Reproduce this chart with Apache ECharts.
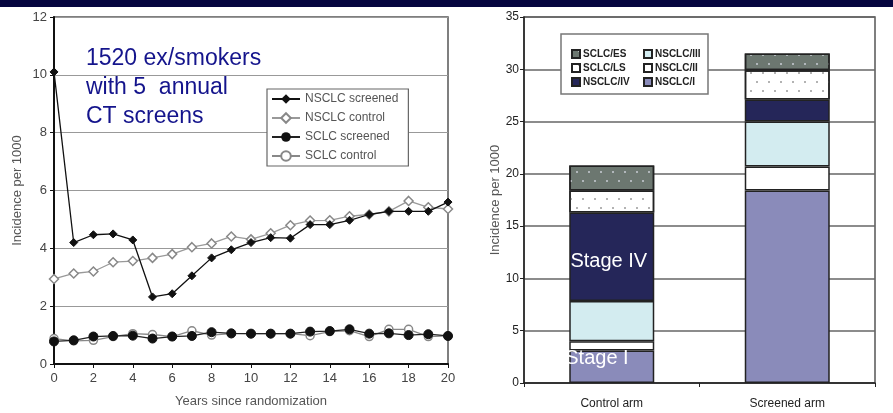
<!DOCTYPE html>
<html><head><meta charset="utf-8">
<script src="https://cdn.jsdelivr.net/npm/echarts@6/dist/echarts.min.js"></script>
<style>html,body{margin:0;padding:0;background:#fff}#c{width:893px;height:413px}</style>
</head><body><div id="c"></div>
<script>
// ---- Left chart data ----
const years = [0,1,2,3,4,5,6,7,8,9,10,11,12,13,14,15,16,17,18,19,20];
const nsclcScreened = [10.1,4.2,4.47,4.5,4.29,2.32,2.43,3.05,3.67,3.95,4.2,4.37,4.35,4.82,4.82,4.97,5.17,5.28,5.28,5.28,5.6];
const nsclcControl  = [2.94,3.13,3.2,3.52,3.56,3.67,3.8,4.04,4.17,4.41,4.31,4.52,4.8,4.96,4.97,5.11,5.17,5.28,5.64,5.42,5.36];
const sclcScreened  = [0.78,0.82,0.95,0.97,0.98,0.88,0.95,0.97,1.1,1.06,1.05,1.05,1.05,1.12,1.14,1.2,1.05,1.06,1.0,1.03,0.97];
const sclcControl   = [0.88,0.8,0.82,0.95,1.05,1.02,0.95,1.15,1.0,1.05,1.05,1.05,1.05,0.98,1.12,1.15,0.95,1.2,1.2,0.95,0.97];
const lineNames = ['NSCLC screened','NSCLC control','SCLC screened','SCLC control'];
const annotation = ['1520 ex/smokers','with 5  annual','CT screens'];

// ---- Right chart data ----
const arms = ['Control arm','Screened arm'];
const nsclcI   = [3.1, 18.4];
const nsclcII  = [0.9, 2.3];
const nsclcIII = [3.85, 4.3];
const nsclcIV  = [8.45, 2.1];
const sclcLS   = [2.1, 2.8];
const sclcES   = [2.4, 1.6];
const stageLabels = {IV: 'Stage IV', I: 'Stage I'};

const chart = echarts.init(document.getElementById('c'), null, {renderer:'canvas'});
const pair = arr => years.map((y,i)=>[y,arr[i]]);
const arial = "'Liberation Sans',Arial,sans-serif";

const dots = (c) => ({symbol:'circle', symbolSize:1, color:c, dashArrayX:[[2,10],[0,6,2,4]], dashArrayY:[2,7]});
const barBase = {type:'bar', stack:'s', xAxisIndex:1, yAxisIndex:1, barWidth:85};
const bStyle = (c, extra) => Object.assign({color:c, borderColor:'#222', borderWidth:1.5}, extra||{});
const legText = {color:'#222', fontSize:10, fontWeight:'bold', fontFamily:arial, lineHeight:12, padding:[0,0,0,-2]};

const option = {
  backgroundColor:'#fff',
  animation:false,
  graphic:[
    {type:'rect', shape:{x:0,y:0,width:893,height:7}, style:{fill:'#06063f'}, z:100},
    {type:'rect', shape:{x:561,y:34,width:147,height:60}, style:{fill:'#fff', stroke:'#777', lineWidth:1.5}, z:50},
    {type:'text', left:86, top:44, z:60, style:{text:annotation.join('\n'), fill:'#14148c', font:'23px '+arial, lineHeight:29}}
  ],
  grid:[
    {left:54, top:17, width:394, height:355, show:true, borderColor:'#555', borderWidth:1.5, backgroundColor:'transparent'},
    {left:524, top:17, width:351, height:366, show:true, borderColor:'#555', borderWidth:1.5, backgroundColor:'transparent'}
  ],
  xAxis:[
    {gridIndex:0, type:'value', min:0, max:20, interval:2,
     axisLine:{show:true, onZero:false, lineStyle:{color:'#111', width:2}},
     axisTick:{show:true, length:4, lineStyle:{color:'#111'}},
     axisLabel:{color:'#444', fontSize:13, fontFamily:arial, margin:8},
     splitLine:{show:false},
     name:'Years since randomization', nameLocation:'middle', nameGap:31,
     nameTextStyle:{color:'#555', fontSize:13, fontFamily:arial}},
    {gridIndex:1, type:'category', data:arms,
     axisLine:{show:true, lineStyle:{color:'#222', width:1.5}},
     axisTick:{show:true, length:4, lineStyle:{color:'#222'}},
     axisLabel:{color:'#222', fontSize:12, fontFamily:arial, margin:15}}
  ],
  yAxis:[
    {gridIndex:0, type:'value', min:0, max:12, interval:2,
     axisLine:{show:true, lineStyle:{color:'#111', width:2}},
     axisTick:{show:true, length:4, lineStyle:{color:'#111'}},
     axisLabel:{color:'#444', fontSize:13, fontFamily:arial, margin:7},
     splitLine:{show:true, lineStyle:{color:'#999', width:1.2}},
     name:'Incidence per 1000', nameLocation:'middle', nameGap:30,
     nameTextStyle:{color:'#555', fontSize:13, fontFamily:arial}},
    {gridIndex:1, type:'value', min:0, max:35, interval:5,
     axisLine:{show:true, lineStyle:{color:'#222', width:1.5}},
     axisTick:{show:true, length:4, lineStyle:{color:'#222'}},
     axisLabel:{color:'#222', fontSize:12, fontFamily:arial, margin:5},
     splitLine:{show:true, lineStyle:{color:'#666', width:1.5}},
     name:'Incidence per 1000', nameLocation:'middle', nameGap:22,
     nameTextStyle:{color:'#555', fontSize:13, fontFamily:arial}}
  ],
  legend:[
    {data:lineNames, orient:'vertical', left:267, top:89, z:60,
     backgroundColor:'#fff', borderColor:'#666', borderWidth:1.2, padding:[4,10,4,4],
     itemWidth:28, itemHeight:12, itemGap:7,
     textStyle:{color:'#555', fontSize:12, fontFamily:arial}},
    {data:['SCLC/ES','SCLC/LS','NSCLC/IV'], orient:'vertical', left:566, top:43, z:60,
     itemWidth:8, itemHeight:8, itemGap:2, icon:'rect', textStyle:legText},
    {data:['NSCLC/III','NSCLC/II','NSCLC/I'], orient:'vertical', left:638, top:43, z:60,
     itemWidth:8, itemHeight:8, itemGap:2, icon:'rect', textStyle:legText}
  ],
  series:[
    {name:lineNames[0], type:'line', xAxisIndex:0, yAxisIndex:0, data:pair(nsclcScreened),
     symbol:'diamond', symbolSize:8, lineStyle:{color:'#111', width:1.3},
     itemStyle:{color:'#111', borderColor:'#111'}, z:5},
    {name:lineNames[1], type:'line', xAxisIndex:0, yAxisIndex:0, data:pair(nsclcControl),
     symbol:'diamond', symbolSize:9, lineStyle:{color:'#999', width:1.3},
     itemStyle:{color:'#fff', borderColor:'#888', borderWidth:1.5}, z:4},
    {name:lineNames[2], type:'line', xAxisIndex:0, yAxisIndex:0, data:pair(sclcScreened),
     symbol:'circle', symbolSize:9, lineStyle:{color:'#222', width:1.3},
     itemStyle:{color:'#111', borderColor:'#111'}, z:5},
    {name:lineNames[3], type:'line', xAxisIndex:0, yAxisIndex:0, data:pair(sclcControl),
     symbol:'circle', symbolSize:8, lineStyle:{color:'#888', width:1.3},
     itemStyle:{color:'#fff', borderColor:'#888', borderWidth:1.5}, z:4},

    Object.assign({name:'NSCLC/I', data:nsclcI.map((v,i)=> i===0 ? {value:v, label:{show:true, formatter:stageLabels.I, position:'insideLeft', distance:0, offset:[-4,-8], color:'#fff', fontSize:20, fontFamily:arial}} : v),
      itemStyle:bStyle('#8a8bba')}, barBase),
    Object.assign({name:'NSCLC/II', data:nsclcII, itemStyle:bStyle('#ffffff')}, barBase),
    Object.assign({name:'NSCLC/III', data:nsclcIII, itemStyle:bStyle('#d3ecf0')}, barBase),
    Object.assign({name:'NSCLC/IV', data:nsclcIV.map((v,i)=> i===0 ? {value:v, label:{show:true, formatter:stageLabels.IV, position:'inside', offset:[-3,5], color:'#fff', fontSize:20, fontFamily:arial}} : v),
      itemStyle:bStyle('#252659')}, barBase),
    Object.assign({name:'SCLC/LS', data:sclcLS, itemStyle:bStyle('#ffffff', {decal:dots('#9a9a9a')})}, barBase),
    Object.assign({name:'SCLC/ES', data:sclcES, itemStyle:bStyle('#6c7770', {decal:dots('#c8ccd4')})}, barBase)
  ]
};
chart.setOption(option);
</script>
</body></html>
